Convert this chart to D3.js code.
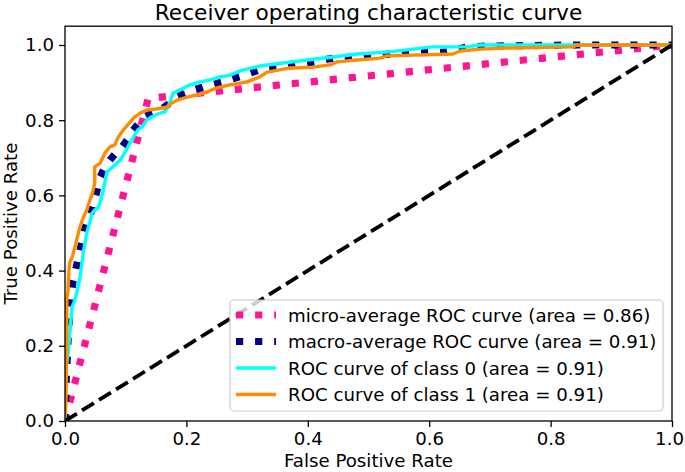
<!DOCTYPE html>
<html><head><meta charset="utf-8">
<script src="https://cdn.jsdelivr.net/npm/d3@7"></script>
<style>
body{margin:0;background:#fff}
text{font-family:"DejaVu Sans",sans-serif;fill:#000}
</style>
</head><body>
<svg id="chart" width="685" height="472"></svg>
<script>
// ---- data ----
const microFpr = [0, 0.137, 1];
const microTpr = [0, 0.858, 1];

const macroFpr = [0, 0.002, 0.003, 0.005, 0.008, 0.013, 0.020, 0.026, 0.033, 0.0445, 0.051, 0.058, 0.066, 0.074, 0.084, 0.094, 0.102, 0.110, 0.119, 0.128, 0.140, 0.157, 0.173, 0.185, 0.201, 0.227, 0.260, 0.292, 0.321, 0.351, 0.409, 0.442, 0.474, 0.507, 0.568, 0.629, 0.662, 0.695, 0.843, 1];
const macroTpr = [0, 0.109, 0.144, 0.215, 0.295, 0.370, 0.420, 0.463, 0.513, 0.561, 0.601, 0.649, 0.676, 0.694, 0.713, 0.729, 0.747, 0.769, 0.787, 0.806, 0.816, 0.827, 0.846, 0.862, 0.875, 0.888, 0.902, 0.918, 0.934, 0.939, 0.955, 0.965, 0.968, 0.973, 0.979, 0.981, 0.995, 0.997, 1.0, 1];

const class0Fpr = [0, 0, 0.003, 0.005, 0.008, 0.0115, 0.0165, 0.021, 0.025, 0.028, 0.030, 0.033, 0.036, 0.041, 0.0445, 0.049, 0.054, 0.058, 0.063, 0.069, 0.079, 0.091, 0.099, 0.107, 0.115, 0.120, 0.127, 0.135, 0.143, 0.157, 0.165, 0.173, 0.178, 0.189, 0.206, 0.222, 0.239, 0.255, 0.272, 0.288, 0.321, 0.359, 0.399, 0.442, 0.481, 0.530, 0.573, 0.606, 0.662, 0.684, 1];
const class0Tpr = [0, 0.149, 0.154, 0.181, 0.234, 0.303, 0.322, 0.354, 0.383, 0.420, 0.447, 0.473, 0.500, 0.529, 0.553, 0.561, 0.566, 0.580, 0.614, 0.662, 0.676, 0.694, 0.715, 0.739, 0.761, 0.774, 0.782, 0.801, 0.809, 0.819, 0.822, 0.848, 0.872, 0.880, 0.894, 0.902, 0.907, 0.915, 0.920, 0.931, 0.944, 0.952, 0.960, 0.968, 0.976, 0.981, 0.989, 0.995, 0.995, 1.0, 1];

const class1Fpr = [0, 0.0016, 0.003, 0.003, 0.005, 0.0066, 0.008, 0.0115, 0.0165, 0.020, 0.0247, 0.0297, 0.036, 0.041, 0.0445, 0.049, 0.049, 0.058, 0.066, 0.074, 0.082, 0.087, 0.096, 0.102, 0.107, 0.115, 0.124, 0.135, 0.152, 0.168, 0.176, 0.186, 0.203, 0.217, 0.234, 0.250, 0.272, 0.300, 0.321, 0.333, 0.371, 0.409, 0.437, 0.448, 0.481, 0.519, 0.530, 0.573, 0.639, 0.651, 0.684, 0.728, 0.837, 0.843, 1];
const class1Tpr = [0, 0.056, 0.234, 0.322, 0.348, 0.402, 0.423, 0.434, 0.463, 0.487, 0.516, 0.540, 0.561, 0.588, 0.601, 0.633, 0.676, 0.686, 0.713, 0.729, 0.734, 0.753, 0.774, 0.785, 0.795, 0.809, 0.819, 0.827, 0.830, 0.835, 0.846, 0.854, 0.862, 0.867, 0.875, 0.886, 0.894, 0.902, 0.915, 0.928, 0.939, 0.941, 0.947, 0.955, 0.960, 0.965, 0.971, 0.973, 0.976, 0.984, 0.989, 0.992, 0.995, 1.0, 1];

const chanceFpr = [0, 1];
const chanceTpr = [0, 1];

const xTicks = [0, 0.2, 0.4, 0.6, 0.8, 1.0];
const yTicks = [0, 0.2, 0.4, 0.6, 0.8, 1.0];
const seriesNames = ["micro-average ROC curve (area = 0.86)", "macro-average ROC curve (area = 0.91)", "ROC curve of class 0 (area = 0.91)", "ROC curve of class 1 (area = 0.91)"];
const titleText = "Receiver operating characteristic curve";
const xLabel = "False Positive Rate";
const yLabel = "True Positive Rate";

// ---- layout ----
const svg = d3.select("#chart");
const W = 685;
const L = 65, R = 672, T = 26.2, B = 421;
const FS = 18.2;
const x = d3.scaleLinear().domain([0, 1]).range([L, R]);
const y = d3.scaleLinear().domain([0, 1.05]).range([B, T]);

svg.append("defs").append("clipPath").attr("id", "clip")
  .append("rect").attr("x", L).attr("y", T).attr("width", R - L).attr("height", B - T);

const zip = (a, b) => a.map((v, i) => [v, b[i]]);
const line = d3.line().x(d => x(d[0])).y(d => y(d[1]));

const series = [
  {name: seriesNames[0], data: zip(microFpr, microTpr), color: "#ff1493", w: 7.2, dash: "7.2,11.9"},
  {name: seriesNames[1], data: zip(macroFpr, macroTpr), color: "#000080", w: 7.2, dash: "7.2,11.9"},
  {name: seriesNames[2], data: zip(class0Fpr, class0Tpr), color: "#00ffff", w: 3.4, dash: null},
  {name: seriesNames[3], data: zip(class1Fpr, class1Tpr), color: "#ff8c00", w: 3.4, dash: null}
];

const g = svg.append("g").attr("clip-path", "url(#clip)");
series.forEach(s => {
  g.append("path").datum(s.data).attr("d", line)
    .attr("fill", "none").attr("stroke", s.color).attr("stroke-width", s.w)
    .attr("stroke-dasharray", s.dash).attr("stroke-linejoin", "round");
});
g.append("path").datum(zip(chanceFpr, chanceTpr)).attr("d", line)
  .attr("fill", "none").attr("stroke", "#000").attr("stroke-width", 3.8)
  .attr("stroke-dasharray", "14,6");

// axes
const xAxis = d3.axisBottom(x).tickValues(xTicks).tickFormat(d3.format(".1f")).tickSize(6).tickPadding(5);
const yAxis = d3.axisLeft(y).tickValues(yTicks).tickFormat(d3.format(".1f")).tickSize(6).tickPadding(5);
const gx = svg.append("g").attr("transform", `translate(0,${B})`).call(xAxis);
const gy = svg.append("g").attr("transform", `translate(${L},0)`).call(yAxis);
[gx, gy].forEach(a => {
  a.select(".domain").remove();
  a.selectAll("line").attr("stroke", "#000").attr("stroke-width", 1.3);
  a.selectAll("text").attr("font-size", FS).attr("font-family", "DejaVu Sans");
});
// keep the last x tick label inside the picture
gx.selectAll("text").each(function () {
  const bb = this.getBBox();
  const tx = this.parentNode.transform.baseVal.consolidate().matrix.e;
  const over = tx + bb.x + bb.width - (W - 1);
  if (over > 0) d3.select(this).attr("x", -over);
});

svg.append("rect").attr("x", L).attr("y", T).attr("width", R - L).attr("height", B - T)
  .attr("fill", "none").attr("stroke", "#000").attr("stroke-width", 1.3);

// labels
svg.append("text").attr("x", (L + R) / 2).attr("y", 20).attr("text-anchor", "middle")
  .attr("font-size", 21.7).text(titleText);
svg.append("text").attr("x", (L + R) / 2).attr("y", 467).attr("text-anchor", "middle")
  .attr("font-size", FS).text(xLabel);
svg.append("text").attr("transform", `translate(17,${(T + B) / 2}) rotate(-90)`).attr("text-anchor", "middle")
  .attr("font-size", FS).text(yLabel);

// legend
const lg = svg.append("g");
lg.append("rect").attr("x", 230).attr("y", 300).attr("width", 433).attr("height", 111).attr("rx", 4)
  .attr("fill", "#fff").attr("fill-opacity", 0.8).attr("stroke", "#ccc").attr("stroke-width", 1.2);
series.forEach((s, i) => {
  const cy = 315 + i * 26.5;
  lg.append("line").attr("x1", 236).attr("x2", 276).attr("y1", cy).attr("y2", cy)
    .attr("stroke", s.color).attr("stroke-width", s.w).attr("stroke-dasharray", s.dash);
  lg.append("text").attr("x", 288).attr("y", cy).attr("dy", "0.36em").attr("font-size", FS).text(s.name);
});
</script>
</body></html>
